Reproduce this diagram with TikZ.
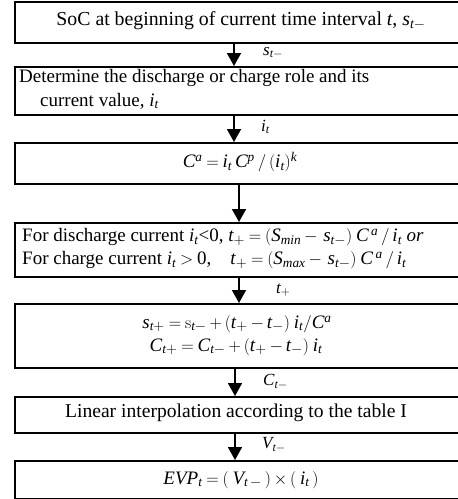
\documentclass[tikz,border=0pt]{standalone}
\usepackage{mathspec}
\setmainfont{Liberation Serif}
\setmathsfont(Digits,Latin){Liberation Serif}
\usetikzlibrary{arrows.meta}
\tikzset{
  box/.style={draw, line width=1.6pt, anchor=north west, minimum width=460pt, inner sep=0pt},
  arr/.style={line width=1.8pt, -{Triangle[width=14pt,length=13pt]}},
  lab/.style={anchor=west, inner sep=0pt, font=\fontsize{17}{20}\selectfont},
}
\begin{document}
\thickmuskip=4mu plus 2mu
\medmuskip=3mu plus 1mu
\begin{tikzpicture}[x=1pt,y=-1pt,every node/.append style={font=\fontsize{19}{23}\selectfont}]
\useasboundingbox (0,0) rectangle (458,499);
\clip (0,0) rectangle (458,499);
% boxes
\node[box, minimum height=41pt] (b1) at (14,1) {};
\node[font=\fontsize{19.8}{23}\selectfont] at (241,21) {SoC at beginning of current time interval $t$, $s_{t-}$};
\node[box, minimum height=48pt] (b2) at (14,66) {};
\node[anchor=west, inner sep=0pt] at (19,78) {Determine the discharge or charge role and its};
\node[anchor=west, inner sep=0pt] at (40,101) {current value, $i_t$};
\node[box, minimum height=41pt] (b3) at (14,142) {};
\node at (240,162) {$C^a = i_t\, C^p\,/\,(i_t)^k$};
\node[box, minimum height=54pt] (b4) at (14,222) {};
\node[anchor=west, inner sep=0pt] at (22,237) {For discharge current $i_t$<0, $t_+ = (S_{min} -\, s_{t-})\; C^{\,a}\,/\,i_t$ \textit{or}};
\node[anchor=west, inner sep=0pt] at (22,260) {For charge current $i_t > 0$,\quad $t_+ = (S_{max} -\, s_{t-})\; C^{\,a}\,/\,i_t$};
\node[box, minimum height=64pt] (b5) at (14,303) {};
\node at (237,324) {$s_{t+} = \mathrm{s}_{t-} + (t_+ - t_-)\; i_t/C^a$};
\node at (236,347) {$C_{t+} = C_{t-} + (t_+ - t_-)\; i_t$};
\node[box, minimum height=36pt] (b6) at (14,396) {};
\node[font=\fontsize{19.6}{23}\selectfont] at (236,413) {Linear interpolation according to the table I};
\node[box, minimum height=38pt] (b7) at (14,460) {};
\node at (241,480) {$EVP_t = (\;V_{t\,-}\,) \times (\;i_t\,)$};
% arrow columns
\coordinate (c1) at (234,0);
\coordinate (c2) at (239,0);
\coordinate (c3) at (235,0);
\draw[arr] (c1 |- b1.south) -- (c1 |- b2.north);
\draw[arr] (c1 |- b2.south) -- (c1 |- b3.north);
\draw[arr] (c2 |- b3.south) -- (c2 |- b4.north);
\draw[arr] (c2 |- b4.south) -- (c2 |- b5.north);
\draw[arr] (c3 |- b5.south) -- (c3 |- b6.north);
\draw[arr] (c3 |- b6.south) -- (c3 |- b7.north);
% labels
\node[lab] at (263,53) {$s_{t-}$};
\node[lab] at (261,127) {$i_t$};
\node[lab] at (276,290) {$t_+$};
\node[lab] at (263,382) {$C_{t-}$};
\node[lab] at (262,445) {$V_{t-}$};
\end{tikzpicture}
\end{document}
